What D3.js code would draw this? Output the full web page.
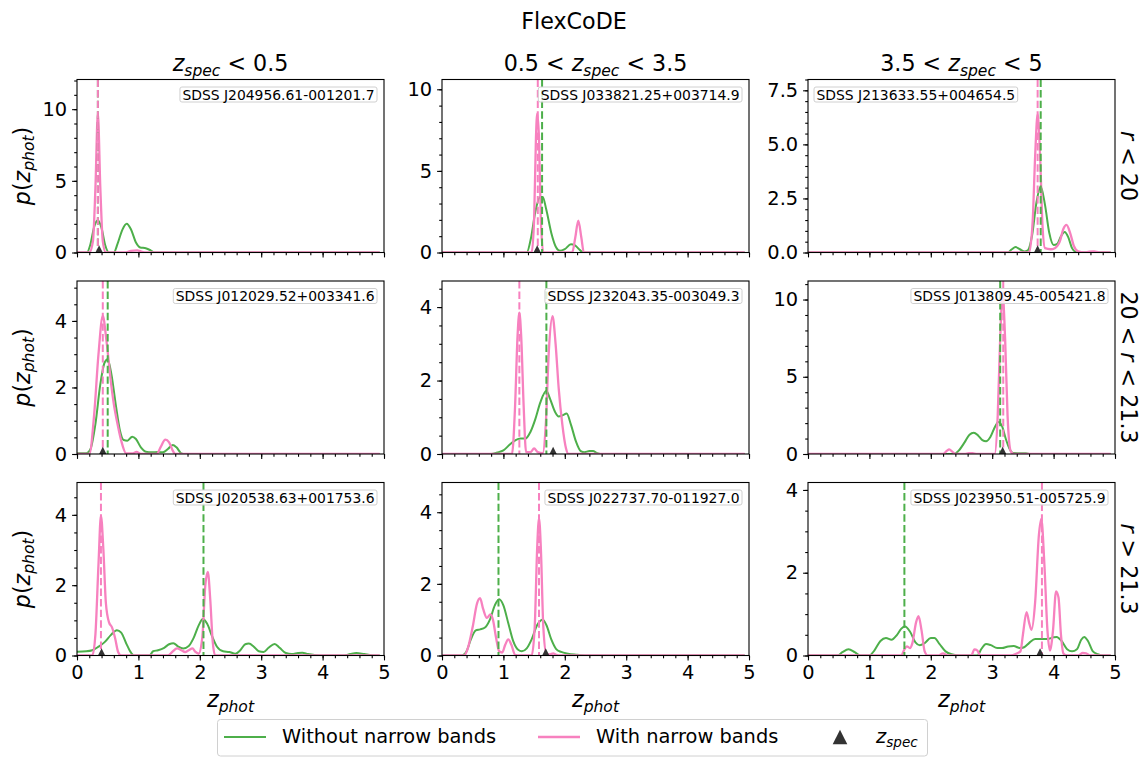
<!DOCTYPE html>
<html>
<head>
<meta charset="utf-8">
<script src="https://cdn.jsdelivr.net/npm/d3@7"></script>
<style>
  body { margin: 0; background: #fff; }
  svg { font-family: "DejaVu Sans", sans-serif; }
</style>
</head>
<body>
<svg id="chart" width="1148" height="767"></svg>
<script>
// ---- data ----
// panels are listed row by row: (r<20), (20<r<21.3), (r>21.3); columns by z_spec bin
var colTitles = [
  [{t: "z", it: 1}, {t: "spec", it: 1, sub: 1}, {t: " < 0.5"}],
  [{t: "0.5 < "}, {t: "z", it: 1}, {t: "spec", it: 1, sub: 1}, {t: " < 3.5"}],
  [{t: "3.5 < "}, {t: "z", it: 1}, {t: "spec", it: 1, sub: 1}, {t: " < 5"}]
];
var rowLabels = [
  [{t: "r", it: 1}, {t: " < 20"}],
  [{t: "20 < "}, {t: "r", it: 1}, {t: " < 21.3"}],
  [{t: "r", it: 1}, {t: " > 21.3"}]
];
var objNames = [
  "SDSS J204956.61-001201.7", "SDSS J033821.25+003714.9", "SDSS J213633.55+004654.5",
  "SDSS J012029.52+003341.6", "SDSS J232043.35-003049.3", "SDSS J013809.45-005421.8",
  "SDSS J020538.63+001753.6", "SDSS J022737.70-011927.0", "SDSS J023950.51-005725.9"
];
var nameSide = ["right", "right", "left", "right", "right", "right", "right", "right", "right"];
var yMax = [12.07, 10.6, 8.0, 5.2, 4.71, 11.2, 4.92, 4.83, 4.18];
var yStep = [5, 5, 2.5, 2, 2, 5, 2, 2, 2];
var zSpec = [0.36, 1.55, 3.74, 0.42, 1.81, 3.17, 0.40, 1.69, 3.78];
var peakNoNB = [0.34, 1.63, 3.79, 0.50, 1.70, 3.13, 2.06, 0.92, 1.57];
var peakNB = [0.34, 1.56, 3.74, 0.42, 1.26, 3.18, 0.39, 1.58, 3.81];

// p(z_phot) without narrow bands (green)
var pdfNoNB = [
  [[0,0],[0.16,0],[0.22,0.6],[0.28,1.8],[0.34,2.25],[0.4,1.7],[0.46,0.5],[0.52,0],[0.6,0],[0.66,0.6],[0.74,1.6],[0.81,2.0],[0.88,1.6],[0.96,0.7],[1.03,0.35],[1.12,0.3],[1.2,0.15],[1.26,0],[4.93,0]],
  [[0,0],[1.38,0],[1.45,0.9],[1.52,2.5],[1.6,3.4],[1.64,3.4],[1.7,2.6],[1.78,1.2],[1.86,0.3],[1.92,0.1],[2.0,0.2],[2.1,0.5],[2.16,0.45],[2.22,0.25],[2.3,0],[4.93,0]],
  [[0,0],[3.25,0],[3.32,0.15],[3.38,0.25],[3.45,0.15],[3.52,0.05],[3.58,0.1],[3.65,0.8],[3.72,2.3],[3.79,3.05],[3.86,2.2],[3.93,0.9],[4.0,0.35],[4.06,0.4],[4.12,0.75],[4.18,0.95],[4.24,0.7],[4.3,0.2],[4.36,0.02],[4.43,0],[4.93,0]],
  [[0,0.02],[0.15,0.02],[0.22,0.15],[0.3,0.9],[0.38,2.1],[0.45,2.75],[0.5,2.85],[0.56,2.4],[0.63,1.5],[0.7,0.7],[0.76,0.42],[0.82,0.4],[0.9,0.52],[0.96,0.45],[1.04,0.2],[1.12,0.07],[1.22,0.05],[1.32,0.06],[1.4,0.05],[1.48,0.15],[1.56,0.27],[1.62,0.2],[1.7,0.02],[1.76,0],[4.93,0]],
  [[0,0],[0.8,0],[0.9,0.04],[1.0,0.1],[1.1,0.25],[1.2,0.38],[1.28,0.42],[1.36,0.42],[1.44,0.6],[1.52,0.95],[1.6,1.4],[1.7,1.72],[1.76,1.5],[1.84,1.15],[1.9,1.02],[1.96,1.05],[2.03,1.1],[2.1,0.8],[2.18,0.35],[2.26,0.08],[2.32,0.05],[2.4,0.08],[2.46,0.08],[2.52,0.03],[2.58,0],[4.93,0]],
  [[0,0],[2.38,0],[2.45,0.2],[2.55,0.75],[2.63,1.25],[2.7,1.38],[2.77,1.2],[2.84,0.9],[2.9,0.82],[2.97,1.1],[3.05,1.8],[3.1,2.07],[3.16,1.8],[3.22,1.0],[3.28,0.35],[3.35,0.06],[3.45,0.05],[3.55,0.05],[3.62,0],[4.93,0]],
  [[0,0.11],[0.15,0.12],[0.25,0.15],[0.35,0.25],[0.45,0.38],[0.55,0.58],[0.65,0.72],[0.72,0.65],[0.8,0.35],[0.88,0.08],[0.93,0],[1.18,0],[1.24,0.12],[1.32,0.15],[1.42,0.22],[1.5,0.32],[1.57,0.35],[1.65,0.25],[1.73,0.2],[1.82,0.27],[1.9,0.5],[1.98,0.85],[2.05,1.04],[2.12,0.9],[2.2,0.55],[2.28,0.25],[2.38,0.12],[2.48,0.1],[2.58,0.05],[2.66,0.15],[2.74,0.32],[2.8,0.34],[2.88,0.25],[2.96,0.12],[3.04,0.1],[3.12,0.22],[3.22,0.33],[3.3,0.22],[3.4,0.07],[3.5,0.04],[3.6,0.07],[3.67,0.08],[3.76,0.04],[3.9,0.01],[4.0,0],[4.35,0],[4.45,0.04],[4.55,0.07],[4.68,0.04],[4.8,0.01],[4.93,0]],
  [[0,0],[0.32,0],[0.4,0.12],[0.47,0.45],[0.55,0.7],[0.62,0.73],[0.7,0.78],[0.78,1.0],[0.86,1.4],[0.93,1.57],[1.0,1.4],[1.08,0.9],[1.16,0.4],[1.24,0.16],[1.3,0.12],[1.38,0.2],[1.46,0.45],[1.55,0.85],[1.64,1.0],[1.7,0.85],[1.78,0.45],[1.86,0.18],[1.94,0.1],[2.05,0.05],[2.2,0.02],[2.33,0],[4.93,0]],
  [[0,0],[0.48,0],[0.56,0.08],[0.66,0.15],[0.76,0.08],[0.85,0],[1.0,0],[1.08,0.12],[1.18,0.35],[1.27,0.42],[1.36,0.38],[1.45,0.5],[1.52,0.65],[1.58,0.7],[1.66,0.58],[1.75,0.32],[1.82,0.25],[1.9,0.3],[2.0,0.42],[2.06,0.42],[2.14,0.28],[2.24,0.1],[2.34,0.03],[2.48,0],[2.76,0],[2.82,0.15],[2.9,0.28],[2.98,0.25],[3.08,0.18],[3.16,0.18],[3.26,0.22],[3.35,0.23],[3.45,0.18],[3.52,0.2],[3.6,0.3],[3.7,0.4],[3.8,0.4],[3.9,0.4],[4.0,0.44],[4.05,0.45],[4.13,0.35],[4.22,0.15],[4.3,0.1],[4.38,0.15],[4.45,0.38],[4.5,0.45],[4.56,0.35],[4.64,0.1],[4.72,0.03],[4.82,0],[4.93,0]]
];

// p(z_phot) with narrow bands (pink)
var pdfNB = [
  [[0,0],[0.2,0],[0.26,0.8],[0.3,4.5],[0.34,9.7],[0.38,4.5],[0.42,0.8],[0.47,0],[0.8,0],[0.88,0.12],[0.98,0.15],[1.06,0.05],[1.12,0],[4.93,0]],
  [[0,0],[1.46,0],[1.5,2],[1.53,7],[1.55,8.5],[1.58,7],[1.61,2],[1.65,0],[2.12,0],[2.17,0.9],[2.22,1.95],[2.27,0.9],[2.31,0],[4.93,0]],
  [[0,0],[3.6,0],[3.66,1.5],[3.7,4.5],[3.74,6.4],[3.78,4.5],[3.82,1.2],[3.86,0.2],[3.95,0.15],[4.02,0.2],[4.1,0.5],[4.16,1.1],[4.21,1.28],[4.27,0.9],[4.33,0.3],[4.4,0.05],[4.5,0],[4.58,0.04],[4.66,0.05],[4.74,0],[4.93,0]],
  [[0,0],[0.2,0],[0.28,1.2],[0.35,3.0],[0.42,4.15],[0.48,3.4],[0.55,2.2],[0.6,1.5],[0.66,0.9],[0.72,0.4],[0.8,0.02],[0.9,0.02],[0.97,0.06],[1.04,0],[1.3,0],[1.36,0.2],[1.44,0.43],[1.5,0.35],[1.56,0.1],[1.6,0],[4.93,0]],
  [[0,0],[1.14,0],[1.19,1.3],[1.23,3.2],[1.26,3.85],[1.29,3.2],[1.33,1.3],[1.37,0.05],[1.44,0.05],[1.5,0.15],[1.56,0.05],[1.64,0.02],[1.69,0.8],[1.74,2.8],[1.8,3.75],[1.85,3.0],[1.9,1.8],[1.96,0.8],[2.02,0.15],[2.06,0],[4.93,0]],
  [[0,0],[2.2,0],[2.26,0.2],[2.3,0.3],[2.35,0.15],[2.4,0],[2.55,0],[2.62,0.05],[2.68,0.05],[2.75,0],[3.04,0],[3.09,2.5],[3.13,7.5],[3.17,10.3],[3.21,7.5],[3.25,2.5],[3.3,0.2],[3.35,0],[4.93,0]],
  [[0,0],[0.25,0],[0.3,0.6],[0.35,2.6],[0.39,3.98],[0.43,3.0],[0.47,1.5],[0.52,0.95],[0.57,0.8],[0.62,0.5],[0.67,0.1],[0.72,0],[1.48,0],[1.55,0.1],[1.63,0.2],[1.7,0.15],[1.76,0.1],[1.82,0.15],[1.88,0.2],[1.93,0.1],[1.98,0.05],[2.04,0.5],[2.09,2.0],[2.13,2.38],[2.17,1.6],[2.21,0.4],[2.25,0],[4.93,0]],
  [[0,0],[0.36,0],[0.42,0.2],[0.5,0.8],[0.57,1.45],[0.62,1.6],[0.67,1.3],[0.73,1.05],[0.79,1.15],[0.83,1.0],[0.88,0.5],[0.93,0.12],[0.98,0.08],[1.03,0.3],[1.08,0.45],[1.13,0.3],[1.19,0.02],[1.26,0],[1.46,0],[1.51,0.8],[1.55,3.0],[1.58,3.83],[1.61,3.0],[1.65,0.8],[1.7,0.05],[1.76,0.03],[1.81,0.06],[1.86,0.02],[1.92,0],[4.93,0]],
  [[0,0],[1.52,0],[1.57,0.15],[1.61,0.22],[1.66,0.18],[1.7,0.3],[1.76,0.8],[1.8,0.95],[1.85,0.6],[1.9,0.1],[1.95,0],[2.12,0],[2.2,0.05],[2.27,0],[2.66,0],[2.71,0.15],[2.76,0.12],[2.8,0],[3.3,0],[3.4,0.05],[3.46,0.1],[3.5,0.5],[3.56,1.05],[3.6,0.8],[3.64,0.62],[3.7,1.3],[3.76,2.9],[3.8,3.3],[3.85,2.2],[3.9,0.6],[3.94,0.12],[3.99,0.6],[4.04,1.55],[4.08,1.4],[4.12,0.5],[4.16,0.05],[4.22,0],[4.4,0],[4.47,0.06],[4.53,0.05],[4.6,0],[4.93,0]]
];

var xTickLabels = [0, 1, 2, 3, 4, 5];

// ---- layout ----
var GREEN = "#4daf4a", PINK = "#f781bf", DARK = "#333333";
var FS = 19.4;               // tick / legend font size
var LFS = 22.2;              // titles and axis labels
var panelLeft = [77, 442, 808], panelTop = [79.5, 281, 482.5];
var W = 307, H = 173;

var svg = d3.select("#chart");

// writes mathtext-like pieces (italic, subscript) into a <text>
function mathText(sel, parts, size) {
  var wasSub = false;
  parts.forEach(function(p) {
    var ts = sel.append("tspan").text(p.t);
    if (p.it) ts.style("font-style", "italic");
    if (p.sub) {
      ts.attr("font-size", size * 0.7).attr("dy", size * 0.22);
      wasSub = true;
    } else if (wasSub) {
      ts.attr("dy", -size * 0.22);
      wasSub = false;
    }
  });
  return sel;
}

svg.append("text")
  .attr("x", 574).attr("y", 29)
  .attr("text-anchor", "middle")
  .attr("font-size", 22.2)
  .text("FlexCoDE");

var x = d3.scaleLinear().domain([0, 5]).range([0, W]);
var xMinor = d3.range(0, 5.0001, 0.2);

for (var i = 0; i < 9; i++) {
  var row = Math.floor(i / 3), col = i % 3;
  var g = svg.append("g").attr("transform", "translate(" + panelLeft[col] + "," + panelTop[row] + ")");
  var y = d3.scaleLinear().domain([0, yMax[i]]).range([H, 0]);

  g.append("clipPath").attr("id", "clip" + i)
    .append("rect").attr("width", W).attr("height", H);

  // ticks
  var step = yStep[i];
  var yMajor = d3.range(0, yMax[i] + 1e-9, step);
  var minorStep = step / (step === 2 ? 4 : 5);
  var yMinorT = d3.range(0, yMax[i] + 1e-9, minorStep);
  var fmt = step === 2.5 ? d3.format(".1f") : d3.format("d");

  var ya = g.append("g").call(d3.axisLeft(y).tickValues(yMajor).tickSize(4.9).tickPadding(4.9).tickFormat(fmt));
  var yam = g.append("g").call(d3.axisLeft(y).tickValues(yMinorT).tickSize(2.8).tickFormat(""));
  var xa = g.append("g").attr("transform", "translate(0," + H + ")")
    .call(d3.axisBottom(x).tickValues(xTickLabels).tickSize(4.9).tickPadding(4.9)
      .tickFormat(row === 2 ? d3.format("d") : ""));
  var xam = g.append("g").attr("transform", "translate(0," + H + ")")
    .call(d3.axisBottom(x).tickValues(xMinor).tickSize(2.8).tickFormat(""));
  [ya, yam, xa, xam].forEach(function(a) {
    a.select(".domain").remove();
    a.selectAll("line").attr("stroke", "#000").attr("stroke-width", 1.1);
    a.selectAll("text").attr("font-size", FS).attr("font-family", "DejaVu Sans").attr("fill", "#000");
  });

  var plot = g.append("g").attr("clip-path", "url(#clip" + i + ")");
  var line = d3.line().x(function(d) { return x(d[0]); }).y(function(d) { return y(d[1]); })
    .curve(d3.curveMonotoneX);

  plot.append("path").attr("d", line(pdfNoNB[i]))
    .attr("fill", "none").attr("stroke", GREEN).attr("stroke-width", 2);
  plot.append("path").attr("d", line(pdfNB[i]))
    .attr("fill", "none").attr("stroke", PINK).attr("stroke-width", 2.3);

  plot.append("line")
    .attr("x1", x(peakNoNB[i])).attr("x2", x(peakNoNB[i]))
    .attr("y1", 0).attr("y2", H)
    .attr("stroke", GREEN).attr("stroke-width", 2).attr("stroke-dasharray", "7.4,3.2");
  plot.append("line")
    .attr("x1", x(peakNB[i])).attr("x2", x(peakNB[i]))
    .attr("y1", 0).attr("y2", H)
    .attr("stroke", PINK).attr("stroke-width", 2).attr("stroke-dasharray", "7.4,3.2");

  plot.append("path")
    .attr("d", "M0,-7.3L-7.3,7.3L7.3,7.3Z")
    .attr("transform", "translate(" + x(zSpec[i]) + "," + y(0) + ")")
    .attr("fill", DARK);

  // frame
  g.append("rect").attr("width", W).attr("height", H)
    .attr("fill", "none").attr("stroke", "#000").attr("stroke-width", 1.1);

  // object name box
  var nameG = g.append("g");
  var nt = nameG.append("text")
    .attr("font-size", 13.9)
    .attr("y", 7.5 + 7.5 + 0.36 * 13.9)
    .text(objNames[i]);
  var tw = nt.node().getComputedTextLength();
  var bx = nameSide[i] === "right" ? W - 7 - tw - 5 : 6;
  nt.attr("x", bx + 2.5);
  nameG.insert("rect", "text")
    .attr("x", bx).attr("y", 7.5)
    .attr("width", tw + 5).attr("height", 15)
    .attr("rx", 2).attr("fill", "#fff").attr("fill-opacity", 0.8)
    .attr("stroke", "#d0d0d0").attr("stroke-width", 1);

  if (row === 0) {
    mathText(svg.append("text")
      .attr("x", panelLeft[col] + W / 2).attr("y", 71)
      .attr("text-anchor", "middle").attr("font-size", LFS), colTitles[col], LFS);
  }
  if (col === 0) {
    mathText(svg.append("text")
      .attr("transform", "translate(29.5," + (panelTop[row] + H / 2) + ") rotate(-90)")
      .attr("text-anchor", "middle").attr("font-size", LFS),
      [{t: "p", it: 1}, {t: "("}, {t: "z", it: 1}, {t: "phot", it: 1, sub: 1}, {t: ")"}], LFS);
  }
  if (col === 2) {
    mathText(svg.append("text")
      .attr("transform", "translate(1121," + (panelTop[row] + H / 2) + ") rotate(90)")
      .attr("text-anchor", "middle").attr("font-size", LFS), rowLabels[row], LFS);
  }
  if (row === 2) {
    mathText(svg.append("text")
      .attr("x", panelLeft[col] + W / 2).attr("y", 707)
      .attr("text-anchor", "middle").attr("font-size", LFS),
      [{t: "z", it: 1}, {t: "phot", it: 1, sub: 1}], LFS);
  }
}

// ---- legend ----
var leg = svg.append("g");
leg.append("rect")
  .attr("x", 217.5).attr("y", 719.5).attr("width", 710).attr("height", 36.5)
  .attr("rx", 3).attr("fill", "#fff").attr("stroke", "#d0d0d0").attr("stroke-width", 1);
leg.append("line").attr("x1", 224).attr("x2", 266).attr("y1", 737).attr("y2", 737)
  .attr("stroke", GREEN).attr("stroke-width", 2);
leg.append("text").attr("x", 282).attr("y", 743).attr("font-size", FS).text("Without narrow bands");
leg.append("line").attr("x1", 538).attr("x2", 580).attr("y1", 737).attr("y2", 737)
  .attr("stroke", PINK).attr("stroke-width", 2.3);
leg.append("text").attr("x", 596).attr("y", 743).attr("font-size", FS).text("With narrow bands");
leg.append("path").attr("d", "M0,-7.3L-7.3,7.3L7.3,7.3Z")
  .attr("transform", "translate(840,737)").attr("fill", DARK);
mathText(leg.append("text").attr("x", 876).attr("y", 743).attr("font-size", FS),
  [{t: "z", it: 1}, {t: "spec", it: 1, sub: 1}], FS);
</script>
</body>
</html>
